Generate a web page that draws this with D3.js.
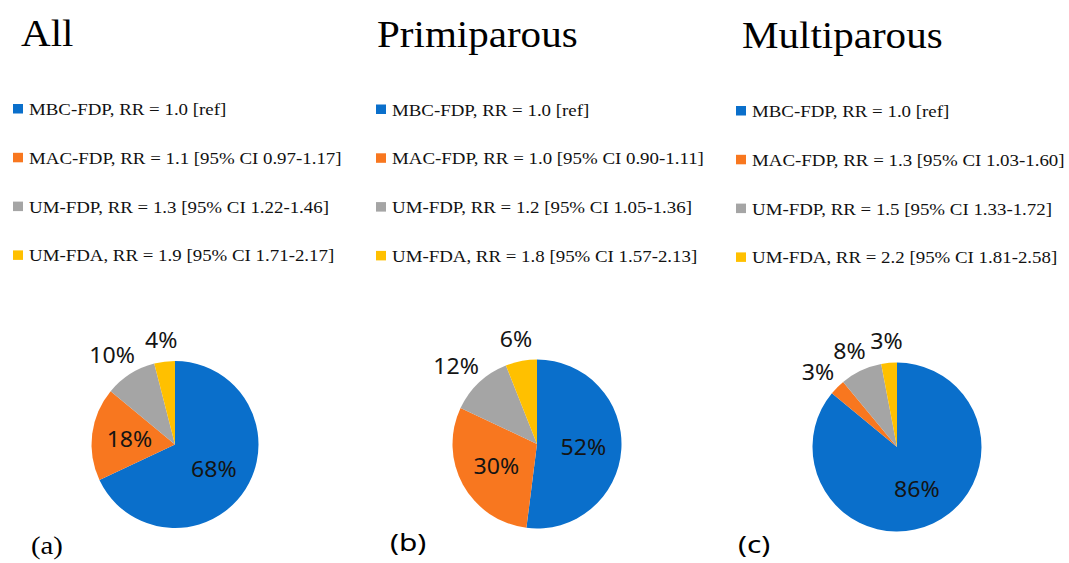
<!DOCTYPE html>
<html>
<head>
<meta charset="utf-8">
<script src="https://cdn.jsdelivr.net/npm/d3@7"></script>
<style>
  body { margin: 0; background: #fff; }
  svg { display: block; }
</style>
</head>
<body>
<svg id="chart" width="1069" height="563"></svg>
<script>
// ---- data ----
const categories = ["MBC-FDP", "MAC-FDP", "UM-FDP", "UM-FDA"];
const panelTitles = ["All", "Primiparous", "Multiparous"];
const panelTags = ["(a)", "(b)", "(c)"];

// share of births per category (%), one array per group
const shareAll = [68, 18, 10, 4];
const sharePrimiparous = [52, 30, 12, 6];
const shareMultiparous = [86, 3, 8, 3];

// relative risk text per category, one array per group
const rrAll = ["1.0 [ref]", "1.1 [95% CI 0.97-1.17]", "1.3 [95% CI 1.22-1.46]", "1.9 [95% CI 1.71-2.17]"];
const rrPrimiparous = ["1.0 [ref]", "1.0 [95% CI 0.90-1.11]", "1.2 [95% CI 1.05-1.36]", "1.8 [95% CI 1.57-2.13]"];
const rrMultiparous = ["1.0 [ref]", "1.3 [95% CI 1.03-1.60]", "1.5 [95% CI 1.33-1.72]", "2.2 [95% CI 1.81-2.58]"];

const palette = ["#0a6fcb", "#f8771f", "#a5a5a5", "#ffc000"];

// ---- layout ----
const panels = [
  { title: panelTitles[0], tag: panelTags[0], shares: shareAll, rr: rrAll,
    titleX: 21, titleY: 46, legX: 13, legY: 115, cx: 175, cy: 444.5, r: 83.5,
    tagX: 31, tagY: 554, tagFont: "serif" },
  { title: panelTitles[1], tag: panelTags[1], shares: sharePrimiparous, rr: rrPrimiparous,
    titleX: 377, titleY: 47, legX: 376, legY: 115.5, cx: 537, cy: 444, r: 84.5,
    tagX: 390, tagY: 551, tagFont: "sans" },
  { title: panelTitles[2], tag: panelTags[2], shares: shareMultiparous, rr: rrMultiparous,
    titleX: 742, titleY: 48, legX: 736, legY: 117, cx: 897, cy: 447, r: 84.5,
    tagX: 738, tagY: 553, tagFont: "sans" }
];

const serif = "'Liberation Serif', 'Times New Roman', serif";
const sans = "'Noto Sans', 'Open Sans', sans-serif";
const rowGap = 48.8;

const color = d3.scaleOrdinal(categories, palette);
const svg = d3.select("#chart");
svg.append("rect").attr("width", 1069).attr("height", 563).attr("fill", "#fff");

// widen text horizontally to the wide book faces used in the figure
function widen(sel, k) {
  sel.each(function () {
    const L = this.getComputedTextLength();
    d3.select(this).attr("textLength", L * k).attr("lengthAdjust", "spacingAndGlyphs");
  });
}

const pie = d3.pie().sort(null).value(d => d.value);

panels.forEach(p => {
  const g = svg.append("g");

  // title
  g.append("text")
    .attr("x", p.titleX).attr("y", p.titleY)
    .attr("font-family", serif).attr("font-size", 38).attr("fill", "#000")
    .text(p.title)
    .call(widen, 1.08);

  // legend
  const rows = categories.map((c, i) => ({ cat: c, rr: p.rr[i] }));
  const leg = g.append("g");
  rows.forEach((row, i) => {
    const by = p.legY + i * rowGap;
    leg.append("rect")
      .attr("x", p.legX).attr("y", by - 11)
      .attr("width", 10).attr("height", 9.5)
      .attr("fill", color(row.cat));
    leg.append("text")
      .attr("x", p.legX + 16).attr("y", by)
      .attr("font-family", serif).attr("font-size", 17).attr("fill", "#111")
      .text(`${row.cat}, RR = ${row.rr}`)
      .call(widen, 1.11);
  });

  // pie
  const data = categories.map((c, i) => ({ cat: c, value: p.shares[i] }));
  const arcs = pie(data);
  const arc = d3.arc().innerRadius(0).outerRadius(p.r);
  const pg = g.append("g").attr("transform", `translate(${p.cx},${p.cy})`);
  pg.selectAll("path").data(arcs).join("path")
    .attr("d", arc)
    .attr("fill", d => color(d.data.cat));

  // percentage labels
  const fs = 22;
  const digitH = fs * 0.714;
  const inner = d3.arc().innerRadius(p.r * 0.55).outerRadius(p.r * 0.55);
  arcs.forEach(a => {
    const t = pg.append("text")
      .attr("text-anchor", "middle")
      .attr("font-family", sans).attr("font-size", fs).attr("fill", "#141414")
      .text(`${a.data.value}%`)
      .call(widen, 1.05);
    let x, y;
    if (a.data.value >= 15) {
      [x, y] = inner.centroid(a);
    } else {
      const th = (a.startAngle + a.endAngle) / 2;
      const s = Math.sin(th), c = Math.cos(th);
      const w = +t.attr("textLength");
      const d = p.r + 8;
      x = d * s + s * (w / 2 + 3);
      y = -d * c - c * 14;
    }
    t.attr("x", x).attr("y", y + digitH / 2);
  });

  // panel tag
  const tag = g.append("text")
    .attr("x", p.tagX).attr("y", p.tagY)
    .attr("font-family", p.tagFont === "serif" ? serif : sans)
    .attr("font-size", p.tagFont === "serif" ? 25 : 23)
    .attr("fill", "#000")
    .text(p.tag);
  tag.call(widen, p.tagFont === "serif" ? 1.15 : 1.3);
});
</script>
</body>
</html>
